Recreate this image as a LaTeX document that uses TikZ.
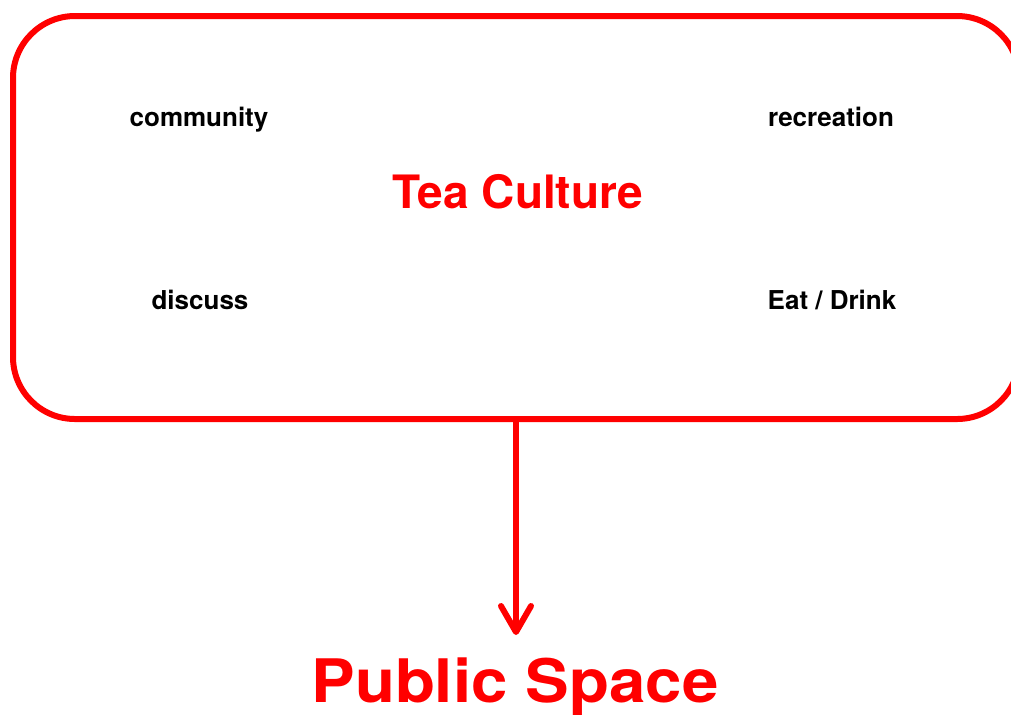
\documentclass[tikz,border=0pt]{standalone}
\usepackage{fontspec}
\setmainfont{TeX Gyre Heros}
\newfontfamily\widefont{TeX Gyre Heros}[FakeStretch=1.09]
\usepackage{xcolor}
\usetikzlibrary{positioning,arrows.meta}

\definecolor{teared}{RGB}{255,0,0}

\tikzset{
  topic/.style={font=\bfseries\fontsize{13pt}{15pt}\selectfont, text=black, inner sep=0pt, anchor=base},
  frame/.style={draw=teared, line width=3pt, rounded corners=31pt, inner sep=0pt},
}

\begin{document}
\begin{tikzpicture}[x=0.5pt, y=-0.5pt]
  \useasboundingbox (0,0) rectangle (1011,714);

  % Frame round the culture
  \node[frame, minimum width=503pt, minimum height=201.5pt] (box) at (516,217.5) {};
  \node[text=teared, inner sep=0pt, font=\bfseries\fontsize{23pt}{27pt}\selectfont] (tea) at (518,192) {Tea Culture};

  % Four aspects
  \node[topic] (community) at (199,126) {community};
  \node[topic] (recreation) at (831,126) {recreation};
  \node[topic] (discuss) at (200,309) {discuss};
  \node[topic] (eat) at (832,309) {Eat / Drink};

  % Result
  \node[text=teared, inner sep=0pt, anchor=base, font=\widefont\bfseries\fontsize{30pt}{34pt}\selectfont] (public) at (515,702) {Public Space};
  \coordinate (tip) at (516,635);
  \draw[teared, line width=3pt, -{Straight Barb[length=13pt, width=15pt, round]}] (box.south) -- (tip);
\end{tikzpicture}
\end{document}
